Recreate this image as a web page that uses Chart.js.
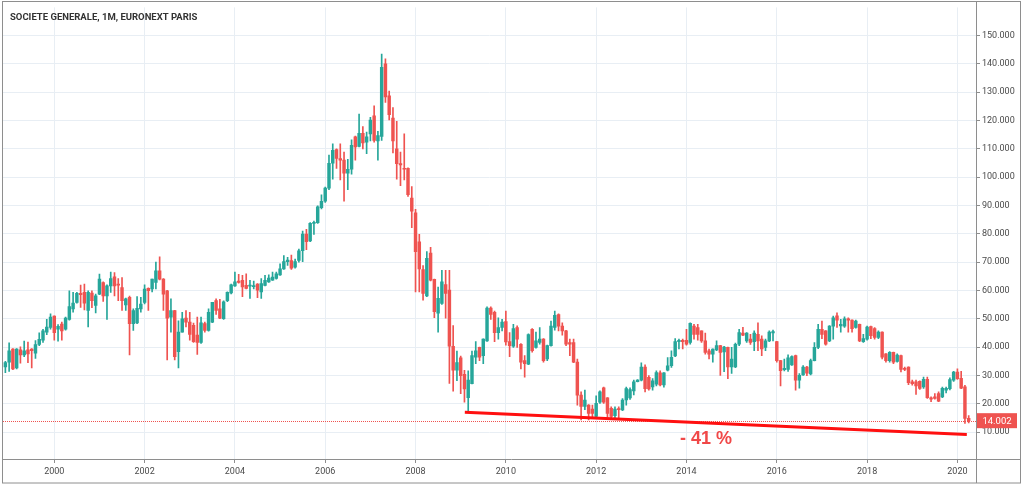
<!DOCTYPE html>
<html>
<head>
<meta charset="utf-8">
<script src="https://cdn.jsdelivr.net/npm/chart.js@4.4.1/dist/chart.umd.min.js"></script>
<style>
  html, body { margin: 0; padding: 0; background: #fff; }
</style>
</head>
<body>
<canvas id="chart" width="1024" height="487"></canvas>
<script>
( function () {
    'use strict';

    // months are counted from Jan 2000 (= 0); the first candle is Dec 1998
    var firstMonth = -13;

    var opens = [
        33,
        34.7, 39.3, 32.6, 39, 37.2, 39, 39.3, 37.8, 40.9, 42.4, 45.3, 46.9,
        50.9, 46.3, 48.1, 46.3, 49.8, 53.5, 55.8, 59, 59.3, 52.9, 59.1, 54.7,
        58.7, 62.8, 58.1, 61.6, 64.8, 62.2, 61, 54.9, 57.6, 48.3, 48.5, 53.5,
        55.8, 60.7, 60.5, 62.8, 66.9, 64, 59.9, 50.6, 52.9, 38.4, 45.3, 50.2,
        48.8, 47.7, 44.2, 41.6, 48.3, 45.9, 48.8, 56.4, 53.5, 50, 56.4, 59.1,
        61.6, 63.3, 63.6, 61.8, 61.5, 61.3, 62.2, 59.5, 61.8, 63, 63.6, 64.2,
        65.5, 67.6, 70.2, 70.5, 68.2, 70.6, 74, 79.9, 77.5, 83.7, 83.9, 89.2,
        91.5, 96.1, 104.9, 109.7, 106.6, 106, 101.4, 102.8, 114.2, 110.9, 115.5, 112.4,
        115.3, 121.7, 112.8, 114.4, 140, 128.7, 120.9, 110, 104.8, 103.1, 103.1, 92.6,
        87.4, 77.2, 67.4, 58.1, 73.2, 63.9, 52, 55.4, 62.1, 60.1, 40.3, 31.8,
        36.2, 30.4, 22.1, 27.1, 36.4, 39.9, 37, 42.2, 53.8, 52.3, 45.1, 46.9,
        49, 41.9, 40.3, 46.9, 41, 35.2, 34, 46.3, 39.9, 41.6, 42.8, 35.8,
        40.5, 46.9, 51.5, 47.4, 45.7, 41.6, 41.6, 34.7, 23, 19, 19.5, 18.1,
        15.5, 20.5, 25.6, 22.1, 18.4, 15.8, 18.2, 17.8, 21.3, 22, 24.5, 27.8,
        28.3, 32.9, 29.3, 25.9, 26.9, 30.9, 26.6, 31.8, 33.4, 36.9, 41.9, 42.4,
        42.4, 41.6, 47.4, 46.9, 45.7, 42.2, 38.7, 37.5, 39, 40.5, 38.3, 39.9,
        33, 33, 41, 44.9, 42.2, 42.8, 41.9, 44.5, 42.8, 39.9, 42.2, 45,
        41.9, 35.2, 32, 32.1, 33.7, 37, 28.3, 30.2, 32.9, 30.5, 35.2, 39.9,
        46.3, 45.7, 42.2, 47.4, 51, 47.5, 47.4, 50, 49.5, 46.9, 48, 41.9,
        42.8, 47.2, 46.5, 43.4, 45.3, 37.6, 35.2, 38.1, 34.9, 37, 32.3, 32.9,
        27.7, 27.7, 27.9, 25.9, 28.6, 22.1, 22.4, 23.6, 22.4, 24.8, 25.3, 28.3,
        31.2, 29, 26, 14.8
    ];
    var highs = [
        35,
        41.5, 39.5, 39.5, 40.1, 42.1, 41.8, 39.5, 42.3, 45, 46.3, 49.8, 51.7,
        51, 47.9, 48.8, 50.6, 59.9, 59.3, 59.3, 61.9, 62.2, 59.9, 59.9, 58.7,
        65.8, 63, 62, 66.5, 66.3, 64.2, 64.5, 57.3, 58, 53.5, 57.8, 57.6,
        62, 60.9, 64, 70, 71.9, 64.2, 60, 57, 53, 49.3, 52.3, 52.9,
        52.3, 48.5, 50.6, 50.6, 48.8, 53.5, 55.8, 57, 56.9, 56.3, 59.5, 62.2,
        66.5, 65.7, 65.3, 65.9, 63.6, 63.3, 62.4, 64.2, 65.3, 65.5, 66.5, 66.5,
        69.4, 72.3, 71.7, 72.5, 71.1, 74.6, 81, 81.6, 84, 84.5, 89.9, 93.8,
        96.5, 107.8, 111.8, 110, 111.8, 108.9, 106.3, 113.2, 114.5, 122.3, 117.9, 115.9,
        121.1, 125.2, 116.2, 143.5, 141.8, 130.4, 124.6, 119.7, 108.9, 115.3, 103.3, 96.7,
        88.6, 79.8, 68.8, 73.7, 75.2, 64, 61.2, 67.1, 67.1, 67.1, 47.6, 38.6,
        36.8, 31.8, 31.6, 38.6, 41.9, 40, 42.9, 54.2, 54.2, 52.7, 50.3, 49.8,
        52.7, 45.1, 48, 47.5, 41.2, 37, 44.7, 46.5, 45.3, 46.9, 43, 40.7,
        49.2, 52.7, 51.7, 48.6, 45.9, 42.8, 42.8, 35.8, 24.2, 24.8, 19.7, 19.5,
        22.8, 24.5, 25.9, 22.2, 18.9, 18.9, 18.9, 21.8, 25.9, 25.6, 28.3, 28.5,
        34.4, 33.7, 29.9, 28.9, 31.6, 31.6, 31, 36.3, 38.7, 43, 42.8, 42.8,
        46.3, 48.6, 48, 48, 45.7, 44.9, 39.3, 39.4, 42.2, 40.6, 40.3, 40,
        39.9, 41.4, 46.3, 47, 45.1, 44.5, 45.7, 48.6, 44, 42.8, 45.7, 46,
        42, 35.3, 35.8, 37.3, 36.9, 37.2, 30.6, 33.5, 33.2, 35.8, 41.6, 48,
        49.2, 45.8, 47.6, 50.9, 52.1, 49.8, 50.7, 50.3, 49.6, 49.5, 48.1, 44.5,
        47.4, 47.4, 46.9, 45.7, 45.4, 37.7, 38.4, 38.2, 37.6, 37.2, 32.9, 33,
        28.3, 28.3, 28.1, 29.4, 29.4, 22.4, 23.6, 24.2, 25.9, 25.9, 29.1, 31.4,
        32.3, 31.4, 26.5, 15.8
    ];
    var lows = [
        31,
        31.4, 32, 32.3, 34.3, 36.6, 34.5, 32.6, 36, 40.5, 41.6, 44.4, 46.3,
        42.4, 42.1, 42.4, 46, 49.5, 52.3, 55.5, 54, 53.1, 47.1, 53.9, 52.1,
        58.5, 56.1, 49.8, 59.3, 58.1, 56.4, 52.9, 52.9, 37.2, 45.9, 48.3, 52.3,
        55.2, 52.9, 59.5, 60.5, 63.7, 52.9, 35.5, 45.3, 35.5, 32.6, 45.3, 47.1,
        42.4, 41.6, 37.4, 41.3, 45.3, 45.6, 48.6, 51.5, 50, 49.8, 56, 58.8,
        61.4, 62.6, 57.8, 60.5, 57.2, 60.5, 57.4, 57.2, 61.6, 62.8, 63.5, 64,
        65.3, 67.4, 68.8, 67.4, 67.9, 70, 70.2, 74.4, 77.2, 79.8, 83.7, 88.8,
        91.1, 95.6, 99.3, 103.1, 99, 91.5, 95.6, 101.1, 106, 110.7, 110, 108.3,
        112.8, 112.4, 106, 113, 126.4, 120.2, 108.6, 99.3, 97, 99, 93.2, 82.2,
        59.5, 59.5, 56.6, 57.8, 63.4, 50.4, 45.3, 55.1, 50.2, 27.2, 24.4, 28.1,
        23.5, 20.5, 17.1, 27, 34.1, 35.2, 34.1, 42, 49.8, 41.9, 42.8, 45.7,
        40.7, 36.6, 39.9, 39.9, 32.3, 29.4, 33.8, 38.2, 39.6, 41, 34.7, 35.2,
        40.3, 46, 45.7, 44.2, 40.5, 37, 34.5, 19.5, 14.3, 17.9, 14.3, 14.7,
        14.7, 20.1, 20.1, 15.2, 14.9, 15.1, 15, 17.5, 19.5, 21.5, 23.1, 27.7,
        28, 24.2, 24.8, 24.8, 26.3, 26.3, 25.8, 31.6, 32.8, 36.6, 39.3, 39.3,
        40.7, 41, 42.8, 42.4, 41.6, 37.5, 35.8, 34.7, 38.7, 30, 31.3, 28.8,
        30.7, 32.7, 40.5, 44, 41.6, 40.9, 38.7, 38.7, 37, 38.7, 41.9, 42.2,
        34.7, 26.3, 31.6, 31.4, 33.5, 24.8, 25.5, 30, 29.9, 30.2, 35.1, 39.4,
        43, 40.7, 41.9, 42.8, 46.9, 45.3, 46.9, 45.3, 45.3, 46.7, 41.9, 41.6,
        42.4, 43, 42.8, 43, 35.8, 34.7, 34.7, 34.1, 34.7, 31.2, 31.7, 26.7,
        26.5, 23.3, 25, 25.4, 21.9, 20.7, 21.6, 20.7, 22.1, 23.8, 24.9, 27.9,
        28.6, 25.3, 13, 13.2
    ];
    var closes = [
        34.5,
        38.7, 32.3, 39.3, 37.2, 38.7, 37.6, 38.7, 40.9, 42.7, 45.7, 47.1, 50.6,
        45.1, 47.3, 45.7, 50.2, 54.3, 55.5, 59, 58.5, 55.5, 59.3, 56.4, 58.1,
        64, 58.1, 61.6, 64.2, 61.6, 61.9, 56.4, 57, 48.3, 52.9, 53.7, 55.2,
        60.5, 59.9, 64, 66.9, 64, 58.7, 50.2, 52.9, 36.6, 45.3, 50, 48.8,
        44.5, 41.9, 41.6, 48.6, 45.9, 52.3, 55.8, 52.9, 50.2, 56, 59.3, 62,
        63, 62.8, 61.2, 60.7, 61.8, 61.7, 60.1, 62.4, 63.6, 64.4, 64.7, 65.9,
        67.6, 70.2, 70.7, 67.9, 70.2, 74, 79.9, 77.2, 83.7, 84, 89.5, 91.5,
        96.1, 104.9, 109.5, 106.6, 106, 101.4, 102.8, 111.2, 110.7, 115.5, 112.1, 114.2,
        120.2, 113, 114.7, 138.8, 128.3, 122.1, 112.8, 104.8, 104.3, 102.8, 93.8, 88,
        73.7, 67.6, 58.9, 71.3, 63.6, 52.5, 57.2, 63, 58.9, 40.3, 31.8, 34.5,
        29.9, 25.2, 28.3, 37, 38.7, 36.4, 42.8, 53.8, 51.5, 45.1, 46.9, 48.8,
        41.8, 40.5, 46.5, 42.8, 34.7, 34.1, 44.4, 38.7, 42.2, 42.8, 35.2, 40.5,
        47.4, 51.2, 47.4, 45.7, 41, 41, 34.7, 23, 19, 21.3, 16.6, 16.6,
        20.1, 24.2, 20.5, 16.6, 15.5, 18.1, 17.9, 21.3, 25.3, 25, 27.7, 28.3,
        32.9, 25.3, 25.2, 28.1, 31, 26.6, 30.9, 33.4, 36.4, 41.9, 42.4, 41.9,
        41, 48.4, 44.5, 44.5, 42.2, 38.1, 37.5, 39.3, 40.5, 38.1, 40, 33,
        35.8, 41, 45.1, 44.2, 44.9, 41.6, 44.9, 42.2, 39.3, 42.2, 45.3, 45.5,
        35.2, 31.7, 32.5, 36.2, 36.6, 28.3, 30, 32.9, 30.8, 35.2, 39.9, 46.3,
        44.5, 41, 47.4, 50.3, 49.5, 48, 50, 49.5, 46.5, 49.2, 42.2, 43,
        47.1, 44, 43.4, 45.3, 36.4, 35.2, 38.1, 34.7, 37.2, 32.1, 32.1, 27.4,
        27.1, 26.3, 25.4, 28.6, 22.1, 21.6, 21.9, 20.9, 25.4, 25.4, 28.5, 31.2,
        28.8, 25.5, 14.8, 14.002
    ];

    var yearTicks  = [ 0, 24, 48, 72, 96, 120, 144, 168, 192, 216, 240 ];
    var yearLabels = [ '2000', '2002', '2004', '2006', '2008', '2010', '2012', '2014', '2016', '2018', '2020' ];
    var priceTicks = [ 10, 20, 30, 40, 50, 60, 70, 80, 90, 100, 110, 120, 130, 140, 150 ];

    // hand drawn support line and its caption (month, price)
    var trendLine = [ { x: 109.1, y: 17.0 }, { x: 242.5, y: 9.1 } ];
    var trendText = { text: '- 41 %', x: 173.2, y: 7.6 };

    var upColor   = '#26a69a';
    var downColor = '#ef5350';
    var gridColor = '#e8eef4';
    var lineGray  = '#8e8e8e';
    var textColor = '#4a4a4a';

    var months = opens.map( function ( v, i ) { return firstMonth + i; } );
    var colors = closes.map( function ( c, i ) { return c >= opens[ i ] ? upColor : downColor; } );
    var lastClose = closes[ closes.length - 1 ];

    var decor = {
        id: 'decor',
        beforeDraw: function ( chart ) {
            var c = chart.ctx;
            c.save();
            c.fillStyle = '#fff';
            c.fillRect( 0, 0, chart.width, chart.height );
            c.restore();
        },
        beforeDatasetsDraw: function ( chart ) {
            var c = chart.ctx, a = chart.chartArea;
            var y = Math.round( chart.scales.y.getPixelForValue( lastClose ) ) + 0.5;
            c.save();
            c.strokeStyle = downColor;
            c.lineWidth = 1;
            c.setLineDash( [ 1, 1 ] );
            c.beginPath();
            c.moveTo( a.left, y );
            c.lineTo( a.right, y );
            c.stroke();
            c.restore();
        },
        afterDraw: function ( chart ) {
            var c = chart.ctx, a = chart.chartArea;
            var xs = chart.scales.x, ys = chart.scales.y;
            c.save();

            // frame and axis separators
            c.strokeStyle = lineGray;
            c.lineWidth = 1;
            c.strokeRect( 2.5, 1.5, 1018, 481.5 );
            c.beginPath();
            c.moveTo( a.right + 0.5, 1.5 );
            c.lineTo( a.right + 0.5, 483 );
            c.moveTo( 2.5, a.bottom + 0.5 );
            c.lineTo( 1020.5, a.bottom + 0.5 );
            c.stroke();

            // title
            c.fillStyle = '#333';
            c.font = 'bold 9.5px Roboto';
            c.textAlign = 'left';
            c.textBaseline = 'alphabetic';
            c.fillText( 'SOCIETE GENERALE, 1M, EURONEXT PARIS', 10, 19.5 );

            // last price tag
            var py = ys.getPixelForValue( lastClose );
            c.fillStyle = downColor;
            c.fillRect( a.right + 1, py - 7.5, 40, 15 );
            c.fillStyle = '#fff';
            c.font = '9.5px Roboto';
            c.textAlign = 'center';
            c.textBaseline = 'middle';
            c.fillText( lastClose.toFixed( 3 ), a.right + 21, py + 0.5 );

            // trend caption
            c.fillStyle = '#f04848';
            c.font = 'bold 18px "Liberation Sans", Arial, sans-serif';
            c.fillText( trendText.text, xs.getPixelForValue( trendText.x ), ys.getPixelForValue( trendText.y ) );

            c.restore();
        }
    };

    new Chart( document.getElementById( 'chart' ), {
        type: 'bar',
        data: {
            datasets: [ {
                label: 'wick',
                data: months.map( function ( m, i ) { return { x: m, y: [ lows[ i ], highs[ i ] ] }; } ),
                backgroundColor: colors,
                barThickness: 1,
                grouped: false,
                borderWidth: 0,
                order: 3,
            }, {
                label: 'body',
                data: months.map( function ( m, i ) { return { x: m, y: [ opens[ i ], closes[ i ] ] }; } ),
                backgroundColor: colors,
                barThickness: 2.8,
                minBarLength: 1,
                grouped: false,
                borderWidth: 0,
                order: 2,
            }, {
                type: 'line',
                label: 'trend',
                data: trendLine,
                borderColor: '#ff1010',
                borderWidth: 3,
                pointRadius: 0,
                order: 1,
            } ],
        },
        options: {
            responsive: false,
            animation: false,
            layout: { padding: { left: 3, top: 2, right: 0, bottom: 0 } },
            plugins: {
                legend: { display: false },
                tooltip: { enabled: false },
            },
            scales: {
                x: {
                    type: 'linear',
                    min: -13.63,
                    max: 244.94,
                    offset: false,
                    grid: { color: gridColor, offset: false, tickColor: lineGray, tickLength: 4 },
                    border: { display: false },
                    afterBuildTicks: function ( s ) {
                        s.ticks = yearTicks.map( function ( v ) { return { value: v }; } );
                    },
                    afterFit: function ( s ) { s.height = 28; },
                    ticks: {
                        color: textColor,
                        font: { family: 'Roboto', size: 9 },
                        padding: 3,
                        maxRotation: 0,
                        autoSkip: false,
                        callback: function ( v ) { return yearLabels[ yearTicks.indexOf( v ) ]; },
                    },
                },
                y: {
                    position: 'right',
                    min: 0.47,
                    max: 159.95,
                    grid: { color: gridColor, tickColor: lineGray, tickLength: 4 },
                    border: { display: false },
                    afterBuildTicks: function ( s ) {
                        s.ticks = priceTicks.map( function ( v ) { return { value: v }; } );
                    },
                    afterFit: function ( s ) { s.width = 48; },
                    ticks: {
                        color: textColor,
                        font: { family: 'Roboto', size: 9 },
                        padding: 2,
                        callback: function ( v ) { return Number( v ).toFixed( 3 ); },
                    },
                },
            },
        },
        plugins: [ decor ],
    } );
} )();
</script>
</body>
</html>
